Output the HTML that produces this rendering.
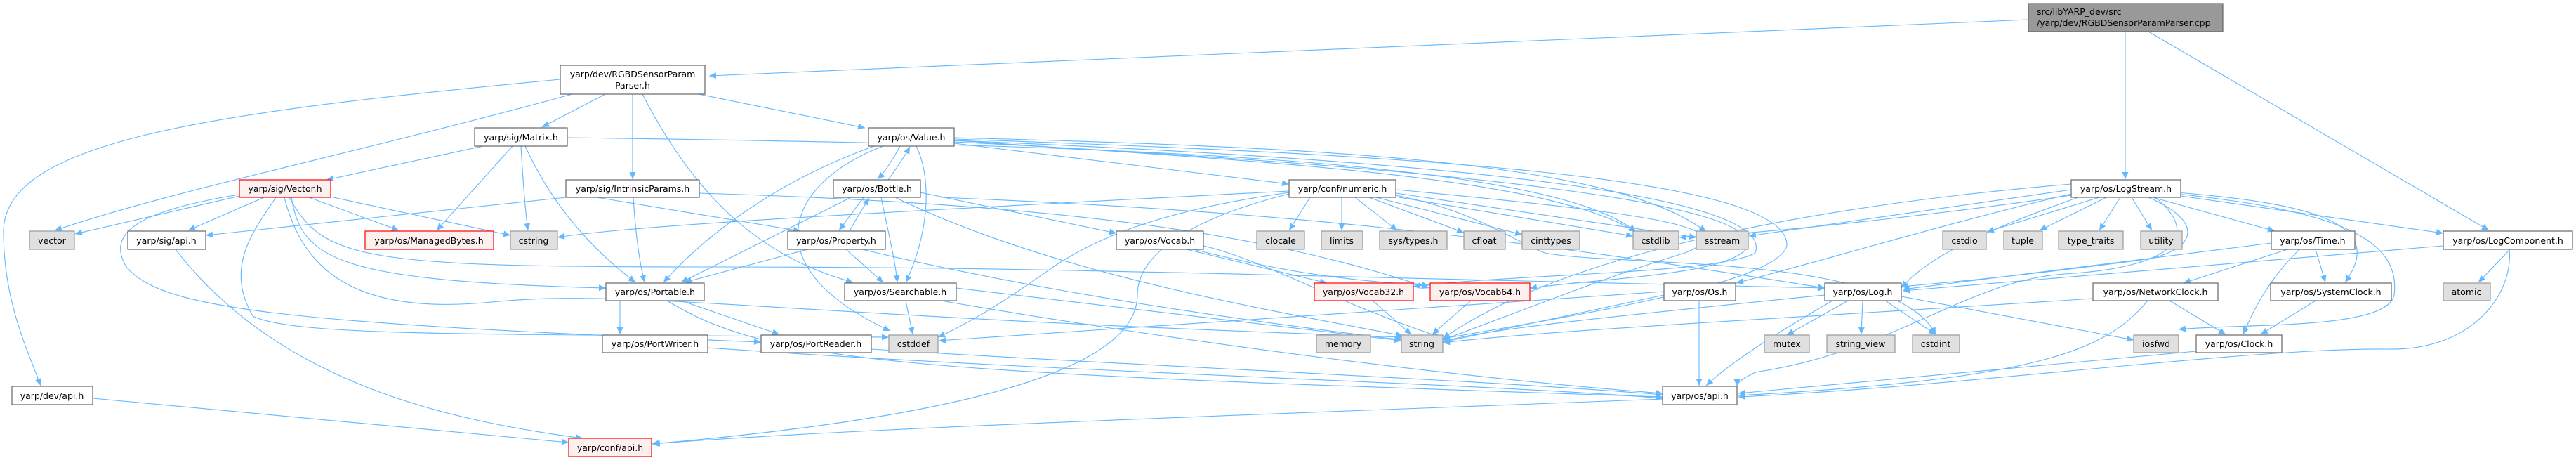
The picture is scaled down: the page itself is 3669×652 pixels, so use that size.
<!DOCTYPE html>
<html><head><meta charset="utf-8"><style>
html,body{margin:0;padding:0;background:#fff;}
svg{display:block;}
text{font-family:"DejaVu Sans","Liberation Sans",sans-serif;font-size:12.5px;fill:#000;}
.e{fill:none;stroke:#63b8ff;stroke-width:1.1;marker-end:url(#a);}
.n{fill:#fff;stroke:#666;stroke-width:1.2;}
.g{fill:#e0e0e0;stroke:#999;stroke-width:1.2;}
.r{fill:#fff0f0;stroke:#f00;stroke-width:1.2;}
</style></head><body>
<svg width="3669" height="652" viewBox="0 0 3669 652" xmlns="http://www.w3.org/2000/svg">
<defs><marker id="a" markerUnits="userSpaceOnUse" markerWidth="11" markerHeight="9" refX="10" refY="4.5" orient="auto"><path d="M0,0 L10,4.5 L0,9 z" fill="#63b8ff"/></marker></defs>
<g>
<path class="e" d="M2889,28 L1010,108"/>
<path class="e" d="M3027,45 L3027,255"/>
<path class="e" d="M3060,45 L3545,328"/>
<path class="e" d="M798,113 C300,160 5,200 5,330 C5,430 40,500 58,549"/>
<path class="e" d="M815,134 C500,220 250,270 78,328"/>
<path class="e" d="M862,134 L772,181"/>
<path class="e" d="M901,134 L901,255"/>
<path class="e" d="M915,134 C1000,300 1100,370 1215,402"/>
<path class="e" d="M995,134 L1232,182"/>
<path class="e" d="M808,196 C1500,205 2200,220 2330,330"/>
<path class="e" d="M688,208 L465,256"/>
<path class="e" d="M730,208 L622,328"/>
<path class="e" d="M742,208 C745,260 748,300 752,328"/>
<path class="e" d="M748,208 C790,300 850,360 905,402"/>
<path class="e" d="M350,277 L107,333"/>
<path class="e" d="M376,281 L268,328"/>
<path class="e" d="M440,281 L568,328"/>
<path class="e" d="M470,280 L727,335"/>
<path class="e" d="M415,281 C430,370 480,400 863,410"/>
<path class="e" d="M412,281 C460,370 520,380 1003,380 C1500,380 1700,390 2600,410"/>
<path class="e" d="M405,281 C430,380 500,450 700,430 C900,410 1100,450 1998,480"/>
<path class="e" d="M393,281 C360,330 320,380 360,450 C420,480 700,475 1266,480"/>
<path class="e" d="M340,277 C200,300 150,330 180,380 C230,440 400,460 1084,487"/>
<path class="e" d="M806,281 L293,335"/>
<path class="e" d="M902,281 C905,330 910,370 918,402"/>
<path class="e" d="M850,281 L1140,329"/>
<path class="e" d="M996,275 C1500,290 1800,330 2035,410"/>
<path class="e" d="M1836,272 C1300,300 900,320 794,338"/>
<path class="e" d="M1245,208 C1100,260 1000,340 945,402"/>
<path class="e" d="M1258,208 C1120,260 1070,380 1268,471"/>
<path class="e" d="M1282,208 C1270,230 1260,245 1250,255"/>
<path class="e" d="M1305,208 C1330,260 1320,340 1290,402"/>
<path class="e" d="M1359,204 L1836,262"/>
<path class="e" d="M1359,200 C1800,230 2200,250 2330,330"/>
<path class="e" d="M1359,196 C1900,210 2300,230 2430,330"/>
<path class="e" d="M1359,198 C2000,220 2550,250 2545,350 C2530,400 2300,440 2055,482"/>
<path class="e" d="M1359,200 C2100,230 2530,280 2500,360 C2450,390 2150,390 2013,408"/>
<path class="e" d="M1359,202 C2100,240 2500,290 2490,350 C2470,390 2300,395 2179,410"/>
<path class="e" d="M1265,256 C1280,235 1290,220 1296,209"/>
<path class="e" d="M1230,281 L1195,328"/>
<path class="e" d="M1212,281 L970,402"/>
<path class="e" d="M1255,281 C1265,330 1275,370 1278,402"/>
<path class="e" d="M1311,274 L1590,332"/>
<path class="e" d="M1275,281 C1500,390 1800,440 1998,478"/>
<path class="e" d="M1340,281 C1800,300 2100,330 2599,410"/>
<path class="e" d="M1210,329 C1220,310 1230,295 1238,282"/>
<path class="e" d="M1150,355 L975,402"/>
<path class="e" d="M1205,355 L1258,402"/>
<path class="e" d="M1228,355 C1500,420 1800,460 1998,484"/>
<path class="e" d="M1700,355 C1800,380 1900,400 2035,406"/>
<path class="e" d="M1690,355 L1890,403"/>
<path class="e" d="M1714,350 C1800,370 1900,430 2052,480"/>
<path class="e" d="M1866,281 L1836,328"/>
<path class="e" d="M1911,281 L1911,328"/>
<path class="e" d="M1930,281 L1990,328"/>
<path class="e" d="M1950,281 L2085,331"/>
<path class="e" d="M1960,281 L2168,334"/>
<path class="e" d="M1975,278 L2326,336"/>
<path class="e" d="M1988,275 L2416,338"/>
<path class="e" d="M1836,274 C1650,300 1560,340 1500,380 C1430,430 1380,460 1336,480"/>
<path class="e" d="M1836,276 C1700,310 1620,360 1620,420 C1620,540 1300,600 928,632"/>
<path class="e" d="M1988,278 C2100,300 2150,340 2200,360 C2300,380 2700,360 2757,476"/>
<path class="e" d="M1990,270 C2300,300 2500,320 2400,360 C2300,390 2200,430 2055,484"/>
<path class="e" d="M1362,410 L1996,485"/>
<path class="e" d="M1340,428 C1700,490 2100,540 2368,560"/>
<path class="e" d="M1290,428 L1300,476"/>
<path class="e" d="M883,428 L883,476"/>
<path class="e" d="M970,428 L1110,476"/>
<path class="e" d="M950,428 C1100,520 1300,530 2368,565"/>
<path class="e" d="M1008,495 C1500,530 2100,545 2368,567"/>
<path class="e" d="M1241,497 C1600,520 2100,540 2368,562"/>
<path class="e" d="M250,355 C400,550 650,600 830,624"/>
<path class="e" d="M132,567 L810,630"/>
<path class="e" d="M2368,568 C1800,590 1200,610 930,632"/>
<path class="e" d="M1955,428 L2010,476"/>
<path class="e" d="M2095,428 L2040,476"/>
<path class="e" d="M2420,428 L2420,549"/>
<path class="e" d="M2370,420 L2055,487"/>
<path class="e" d="M2370,415 C2000,440 1600,470 1337,485"/>
<path class="e" d="M2610,428 C2520,480 2460,520 2430,549"/>
<path class="e" d="M2632,428 L2545,477"/>
<path class="e" d="M2653,428 L2651,476"/>
<path class="e" d="M2685,428 L2757,476"/>
<path class="e" d="M2708,422 L3039,484"/>
<path class="e" d="M2599,420 C2300,450 2100,470 2055,487"/>
<path class="e" d="M2950,262 C2500,300 2200,380 2055,482"/>
<path class="e" d="M2950,270 L2491,336"/>
<path class="e" d="M2955,275 C2800,310 2600,370 2473,403"/>
<path class="e" d="M2960,281 C2850,320 2750,360 2708,410"/>
<path class="e" d="M2950,278 C2800,300 2550,330 2392,338"/>
<path class="e" d="M2990,281 L2830,330"/>
<path class="e" d="M3000,281 L2905,328"/>
<path class="e" d="M3020,281 L2990,328"/>
<path class="e" d="M3036,281 L3065,328"/>
<path class="e" d="M3066,281 L3240,329"/>
<path class="e" d="M3106,279 L3480,332"/>
<path class="e" d="M3100,274 C3300,290 3400,320 3340,402"/>
<path class="e" d="M3100,276 C3330,300 3420,340 3410,420 C3400,470 3200,460 3103,469"/>
<path class="e" d="M3060,281 C3150,320 3120,360 3050,370 C2900,390 2800,400 2708,408"/>
<path class="e" d="M3070,281 C3130,330 3110,380 2940,390 C2800,400 2700,500 2500,530 C2480,540 2474,545 2474,550"/>
<path class="e" d="M3235,346 L2710,412"/>
<path class="e" d="M3258,355 L3110,403"/>
<path class="e" d="M3298,355 L3312,402"/>
<path class="e" d="M3275,355 C3230,400 3210,440 3195,476"/>
<path class="e" d="M3480,350 L2710,414"/>
<path class="e" d="M3575,355 L3530,402"/>
<path class="e" d="M3574,355 C3580,420 3520,500 3400,497 C3200,495 2800,550 2476,565"/>
<path class="e" d="M2981,425 C2600,450 2200,470 2055,488"/>
<path class="e" d="M3090,428 L3170,476"/>
<path class="e" d="M3059,428 C3000,500 2900,540 2476,563"/>
<path class="e" d="M3298,428 L3220,476"/>
<path class="e" d="M3128,500 C2900,520 2700,540 2476,560"/>
</g>
<g>
<rect x="2889" y="5" width="277" height="40" fill="#999" stroke="#666" stroke-width="1.2"/>
<text x="2901" y="21">src/libYARP_dev/src</text><text x="2901" y="37">/yarp/dev/RGBDSensorParamParser.cpp</text>
<rect class="n" x="798" y="93" width="206" height="41"/>
<text x="901" y="110" text-anchor="middle">yarp/dev/RGBDSensorParam</text><text x="901" y="126" text-anchor="middle">Parser.h</text>
<rect class="n" x="676" y="182" width="132" height="26"/><text x="742" y="200" text-anchor="middle">yarp/sig/Matrix.h</text>
<rect class="n" x="1237" y="182" width="122" height="26"/><text x="1298" y="200" text-anchor="middle">yarp/os/Value.h</text>
<rect class="r" x="341" y="256" width="130" height="25"/><text x="406" y="273" text-anchor="middle">yarp/sig/Vector.h</text>
<rect class="n" x="806" y="256" width="190" height="25"/><text x="901" y="273" text-anchor="middle">yarp/sig/IntrinsicParams.h</text>
<rect class="n" x="1187" y="256" width="124" height="25"/><text x="1249" y="273" text-anchor="middle">yarp/os/Bottle.h</text>
<rect class="n" x="1836" y="256" width="152" height="25"/><text x="1912" y="273" text-anchor="middle">yarp/conf/numeric.h</text>
<rect class="n" x="2950" y="256" width="156" height="25"/><text x="3028" y="273" text-anchor="middle">yarp/os/LogStream.h</text>

<rect class="g" x="42" y="329" width="64" height="26"/><text x="74" y="347" text-anchor="middle">vector</text>
<rect class="n" x="182" y="329" width="111" height="26"/><text x="237" y="347" text-anchor="middle">yarp/sig/api.h</text>
<rect class="r" x="520" y="329" width="183" height="26"/><text x="611" y="347" text-anchor="middle">yarp/os/ManagedBytes.h</text>
<rect class="g" x="727" y="329" width="67" height="26"/><text x="760" y="347" text-anchor="middle">cstring</text>
<rect class="n" x="1122" y="329" width="139" height="26"/><text x="1191" y="347" text-anchor="middle">yarp/os/Property.h</text>
<rect class="n" x="1590" y="329" width="124" height="26"/><text x="1652" y="347" text-anchor="middle">yarp/os/Vocab.h</text>
<rect class="g" x="1790" y="329" width="68" height="26"/><text x="1824" y="347" text-anchor="middle">clocale</text>
<rect class="g" x="1882" y="329" width="59" height="26"/><text x="1911" y="347" text-anchor="middle">limits</text>
<rect class="g" x="1965" y="329" width="96" height="26"/><text x="2013" y="347" text-anchor="middle">sys/types.h</text>
<rect class="g" x="2085" y="329" width="59" height="26"/><text x="2114" y="347" text-anchor="middle">cfloat</text>
<rect class="g" x="2168" y="329" width="82" height="26"/><text x="2209" y="347" text-anchor="middle">cinttypes</text>
<rect class="g" x="2326" y="329" width="65" height="26"/><text x="2358" y="347" text-anchor="middle">cstdlib</text>
<rect class="g" x="2416" y="329" width="74" height="26"/><text x="2453" y="347" text-anchor="middle">sstream</text>
<rect class="g" x="2767" y="329" width="62" height="26"/><text x="2798" y="347" text-anchor="middle">cstdio</text>
<rect class="g" x="2854" y="329" width="55" height="26"/><text x="2881" y="347" text-anchor="middle">tuple</text>
<rect class="g" x="2932" y="329" width="92" height="26"/><text x="2978" y="347" text-anchor="middle">type_traits</text>
<rect class="g" x="3049" y="329" width="59" height="26"/><text x="3078" y="347" text-anchor="middle">utility</text>
<rect class="n" x="3235" y="329" width="119" height="26"/><text x="3294" y="347" text-anchor="middle">yarp/os/Time.h</text>
<rect class="n" x="3480" y="329" width="184" height="26"/><text x="3572" y="347" text-anchor="middle">yarp/os/LogComponent.h</text>

<rect class="n" x="863" y="403" width="140" height="25"/><text x="933" y="420" text-anchor="middle">yarp/os/Portable.h</text>
<rect class="n" x="1203" y="403" width="159" height="25"/><text x="1282" y="420" text-anchor="middle">yarp/os/Searchable.h</text>
<rect class="r" x="1872" y="403" width="141" height="25"/><text x="1942" y="420" text-anchor="middle">yarp/os/Vocab32.h</text>
<rect class="r" x="2037" y="403" width="142" height="25"/><text x="2108" y="420" text-anchor="middle">yarp/os/Vocab64.h</text>
<rect class="n" x="2370" y="403" width="102" height="25"/><text x="2421" y="420" text-anchor="middle">yarp/os/Os.h</text>
<rect class="n" x="2599" y="403" width="109" height="25"/><text x="2653" y="420" text-anchor="middle">yarp/os/Log.h</text>
<rect class="n" x="2981" y="403" width="178" height="25"/><text x="3070" y="420" text-anchor="middle">yarp/os/NetworkClock.h</text>
<rect class="n" x="3234" y="403" width="172" height="25"/><text x="3320" y="420" text-anchor="middle">yarp/os/SystemClock.h</text>
<rect class="g" x="3480" y="403" width="67" height="25"/><text x="3513" y="420" text-anchor="middle">atomic</text>

<rect class="n" x="858" y="477" width="150" height="25"/><text x="933" y="494" text-anchor="middle">yarp/os/PortWriter.h</text>
<rect class="n" x="1084" y="477" width="157" height="25"/><text x="1162" y="494" text-anchor="middle">yarp/os/PortReader.h</text>
<rect class="g" x="1266" y="477" width="70" height="25"/><text x="1301" y="494" text-anchor="middle">cstddef</text>
<rect class="g" x="1875" y="477" width="77" height="25"/><text x="1913" y="494" text-anchor="middle">memory</text>
<rect class="g" x="1996" y="477" width="59" height="25"/><text x="2025" y="494" text-anchor="middle">string</text>
<rect class="g" x="2513" y="477" width="64" height="25"/><text x="2545" y="494" text-anchor="middle">mutex</text>
<rect class="g" x="2602" y="477" width="97" height="25"/><text x="2650" y="494" text-anchor="middle">string_view</text>
<rect class="g" x="2724" y="477" width="67" height="25"/><text x="2757" y="494" text-anchor="middle">cstdint</text>
<rect class="g" x="3039" y="477" width="64" height="25"/><text x="3071" y="494" text-anchor="middle">iosfwd</text>
<rect class="n" x="3128" y="477" width="122" height="25"/><text x="3189" y="494" text-anchor="middle">yarp/os/Clock.h</text>

<rect class="n" x="17" y="550" width="115" height="26"/><text x="74" y="568" text-anchor="middle">yarp/dev/api.h</text>
<rect class="n" x="2368" y="550" width="106" height="26"/><text x="2421" y="568" text-anchor="middle">yarp/os/api.h</text>
<rect class="r" x="810" y="624" width="118" height="26"/><text x="869" y="642" text-anchor="middle">yarp/conf/api.h</text>
</g>
</svg>
</body></html>
